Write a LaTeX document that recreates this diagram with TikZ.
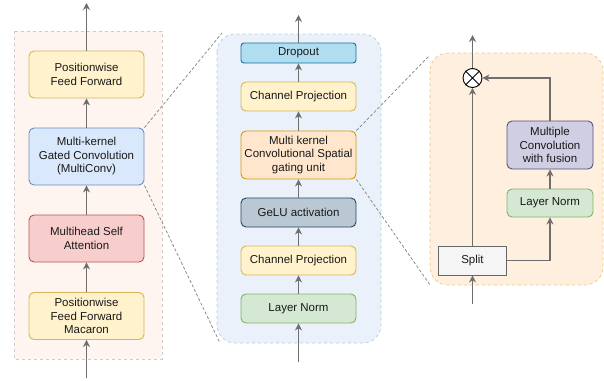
\documentclass[tikz,border=0pt]{standalone}
\usepackage{fontspec}
\setmainfont{Liberation Sans}
\usetikzlibrary{arrows.meta}
\definecolor{ylwfill}{HTML}{FFF2CC}\definecolor{ylwdraw}{HTML}{D6B656}
\definecolor{bluefill}{HTML}{DAE8FC}\definecolor{bluedraw}{HTML}{6C8EBF}
\definecolor{redfill}{HTML}{F8CECC}\definecolor{reddraw}{HTML}{B85450}
\definecolor{orgfill}{HTML}{FFE6CC}\definecolor{orgdraw}{HTML}{D79B00}
\definecolor{dropfill}{HTML}{B1DDF0}\definecolor{dropdraw}{HTML}{10739E}
\definecolor{gelufill}{HTML}{BAC8D3}\definecolor{geludraw}{HTML}{23445D}
\definecolor{grnfill}{HTML}{D5E8D4}\definecolor{grndraw}{HTML}{82B366}
\definecolor{purfill}{HTML}{D0CEE2}\definecolor{purdraw}{HTML}{56517E}
\definecolor{splitfill}{HTML}{F5F5F5}\definecolor{splitdraw}{HTML}{666666}
\definecolor{arrowgray}{HTML}{6E6E6E}
\definecolor{leftpanel}{HTML}{FEF5F0}\definecolor{leftborder}{HTML}{D2CAC6}
\definecolor{midpanel}{HTML}{EAF1FB}\definecolor{midborder}{HTML}{B9C9E2}
\definecolor{rightpanel}{HTML}{FFEFDF}\definecolor{rightborder}{HTML}{F2C679}
\tikzset{
  blk/.style={draw,rounded corners=5pt,line width=0.9pt,align=center,text=black!90,
    font=\fontsize{11.5}{13.5}\selectfont,inner sep=0pt},
  arr/.style={draw=arrowgray,line width=1.1pt,-{Stealth[length=7pt,width=7pt]}},
  zoomline/.style={draw=gray,line width=0.7pt,dash pattern=on 3pt off 2pt},
}
\begin{document}
\begin{tikzpicture}[x=1pt,y=-1pt]
\useasboundingbox (0,0) rectangle (604,380);
% panels
\draw[fill=leftpanel,draw=leftborder,dashed,line width=0.7pt] (14,31) rectangle (162,359);
\draw[fill=midpanel,draw=midborder,dashed,line width=0.7pt,rounded corners=18pt] (217,34) rectangle (381,343);
\draw[fill=rightpanel,draw=rightborder,dashed,line width=0.7pt,rounded corners=18pt] (430,53) rectangle (603,285);
% left column
\node[blk,fill=ylwfill,draw=ylwdraw,minimum width=115pt,minimum height=47pt] (pffm) at (86.5,316) {Positionwise\\Feed Forward\\Macaron};
\node[blk,fill=redfill,draw=reddraw,minimum width=115pt,minimum height=47pt] (mhsa) at (86.5,238.5) {Multihead Self\\Attention};
\node[blk,fill=bluefill,draw=bluedraw,minimum width=115pt,minimum height=57pt] (mconv) at (86.5,156.5) {Multi-kernel\\Gated Convolution\\(MultiConv)};
\node[blk,fill=ylwfill,draw=ylwdraw,minimum width=115pt,minimum height=47pt] (pff) at (86.5,74.5) {Positionwise\\Feed Forward};
\coordinate (lin) at (86.5,378);
\coordinate (lout) at (86.5,3);
\draw[arr] (lin) -- (pffm);
\draw[arr] (pffm) -- (mhsa);
\draw[arr] (mhsa) -- (mconv);
\draw[arr] (mconv) -- (pff);
\draw[arr] (pff) -- (lout);
% middle column
\node[blk,fill=grnfill,draw=grndraw,minimum width=115pt,minimum height=29pt] (lnorm) at (298.5,308.5) {Layer Norm};
\node[blk,fill=ylwfill,draw=ylwdraw,minimum width=115pt,minimum height=29pt] (cproj1) at (298.5,260.5) {Channel Projection};
\node[blk,fill=gelufill,draw=geludraw,minimum width=115pt,minimum height=29pt] (gelu) at (298.5,212.5) {GeLU activation};
\node[blk,fill=orgfill,draw=orgdraw,minimum width=115pt,minimum height=48pt] (csgu) at (298.5,155) {Multi kernel\\Convolutional Spatial\\gating unit};
\node[blk,fill=ylwfill,draw=ylwdraw,minimum width=115pt,minimum height=29pt] (cproj2) at (298.5,96.5) {Channel Projection};
\node[blk,fill=dropfill,draw=dropdraw,rounded corners=3pt,minimum width=115pt,minimum height=20pt] (drop) at (298.5,53) {Dropout};
\coordinate (min) at (298.5,362);
\coordinate (mout) at (298.5,15);
\draw[arr] (min) -- (lnorm);
\draw[arr] (lnorm) -- (cproj1);
\draw[arr] (cproj1) -- (gelu);
\draw[arr] (gelu) -- (csgu);
\draw[arr] (csgu) -- (cproj2);
\draw[arr] (cproj2) -- (drop);
\draw[arr] (drop) -- (mout);
% right column
\node[blk,fill=splitfill,draw=splitdraw,rounded corners=0pt,minimum width=68pt,minimum height=29pt] (split) at (472.5,260.5) {Split};
\node[blk,fill=grnfill,draw=grndraw,minimum width=86pt,minimum height=28pt] (lnorm2) at (550,203) {Layer Norm};
\node[blk,fill=purfill,draw=purdraw,minimum width=86pt,minimum height=48pt] (mcf) at (550,145) {Multiple\\Convolution\\with fusion};
\node[draw,circle,line width=0.9pt,fill=white,minimum size=19pt,inner sep=0pt] (mult) at (472.5,78) {};
\draw[line width=0.9pt] (mult.north west) -- (mult.south east) (mult.north east) -- (mult.south west);
\coordinate (rin) at (472.5,304);
\coordinate (rout) at (472.5,35);
\draw[arr] (rin) -- (split);
\draw[arr] (split) -- (mult);
\draw[arr] (split.east) -| (lnorm2);
\draw[arr] (lnorm2) -- (mcf);
\draw[arr] (mcf) |- (mult);
\draw[arr] (mult) -- (rout);
% zoom lines
\draw[zoomline] (mconv.north east) -- (222,33);
\draw[zoomline] (mconv.south east) -- (220,343);
\draw[zoomline] (csgu.north east) -- (429,56);
\draw[zoomline] (csgu.south east) -- (430,285);
\end{tikzpicture}
\end{document}
